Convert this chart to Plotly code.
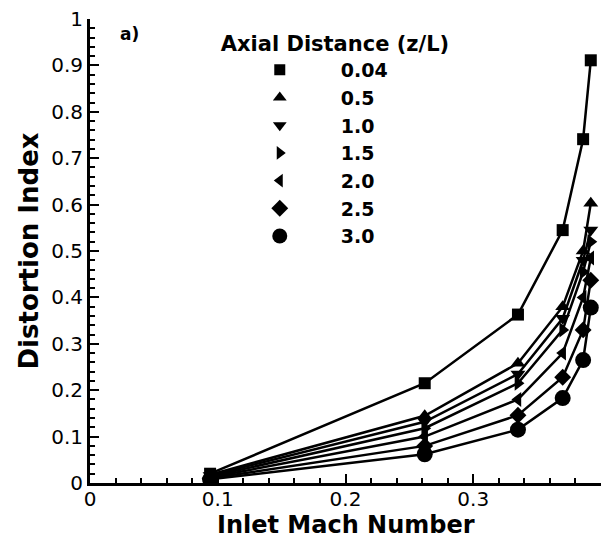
import plotly.graph_objects as go

mach = [0.094, 0.262, 0.335, 0.370, 0.386, 0.392]
labels = ["0.04", "0.5", "1.0", "1.5", "2.0", "2.5", "3.0"]
d_004 = [0.020, 0.215, 0.363, 0.545, 0.741, 0.911]
d_05 = [0.018, 0.145, 0.258, 0.380, 0.500, 0.603]
d_10 = [0.016, 0.132, 0.235, 0.355, 0.480, 0.545]
d_15 = [0.014, 0.118, 0.215, 0.330, 0.455, 0.520]
d_20 = [0.012, 0.100, 0.180, 0.280, 0.400, 0.485]
d_25 = [0.010, 0.080, 0.146, 0.228, 0.330, 0.437]
d_30 = [0.008, 0.062, 0.115, 0.183, 0.265, 0.378]
series = [d_004, d_05, d_10, d_15, d_20, d_25, d_30]
symbols = ["square", "triangle-up", "triangle-down", "triangle-right",
           "triangle-left", "diamond", "circle"]
plot_sizes = [12, 13, 13, 13, 13, 13, 16]
legend_sizes = [11, 12, 12, 12, 12, 13, 15]

fig = go.Figure()
for lab, ys, sym, ps in zip(labels, series, symbols, plot_sizes):
    fig.add_trace(go.Scatter(
        x=mach, y=ys, mode="lines+markers", showlegend=False,
        line=dict(color="black", width=2.5),
        marker=dict(symbol=sym, size=ps, color="black"),
    ))
for lab, sym, ls in zip(labels, symbols, legend_sizes):
    fig.add_trace(go.Scatter(
        x=[None], y=[None], mode="markers", name=lab,
        marker=dict(symbol=sym, size=ls, color="black"),
    ))

axis_common = dict(
    showline=True, linecolor="black", linewidth=3, mirror=False,
    showgrid=False, zeroline=False, ticks="inside", ticklen=9, tickwidth=2,
    tickcolor="black", automargin=False,
    tickfont=dict(family="DejaVu Sans", size=20, color="black"),
)
fig.update_xaxes(
    range=[0, 0.4], dtick=0.1, tick0=0, ticklabelstandoff=-4,
    minor=dict(ticks="inside", dtick=0.02, ticklen=5, tickwidth=1.5, tickcolor="black"),
    **axis_common,
)
fig.update_yaxes(
    range=[0, 1], dtick=0.1, tick0=0,
    minor=dict(ticks="inside", dtick=0.02, ticklen=5, tickwidth=1.5, tickcolor="black"),
    title=dict(text="Distortion Index", standoff=6,
               font=dict(family="DejaVu Sans", size=26, color="black", weight="bold")),
    **axis_common,
)
fig.add_annotation(
    text="Inlet Mach Number", xref="paper", yref="paper", x=0.5, y=0,
    xanchor="center", yanchor="top", yshift=-27, showarrow=False, borderpad=0,
    font=dict(family="DejaVu Sans", size=24, color="black", weight="bold"),
)
fig.add_annotation(
    text="a)", xref="paper", yref="paper", x=0.055, y=0.967,
    xanchor="left", yanchor="middle", showarrow=False,
    font=dict(family="DejaVu Sans", size=17, color="black", weight="bold"),
)
fig.update_layout(
    width=616, height=538,
    margin=dict(l=90, r=15, t=19, b=55, autoexpand=False),
    paper_bgcolor="white", plot_bgcolor="white",
    legend=dict(
        x=0.252, y=0.99, xanchor="left", yanchor="top",
        bgcolor="rgba(0,0,0,0)", itemwidth=112, tracegroupgap=0,
        font=dict(family="DejaVu Sans", size=19, color="black", weight="bold"),
        title=dict(text="Axial Distance (z/L)", side="top",
                   font=dict(family="DejaVu Sans", size=21, color="black", weight="bold")),
    ),
)
fig.write_html("out.html")
